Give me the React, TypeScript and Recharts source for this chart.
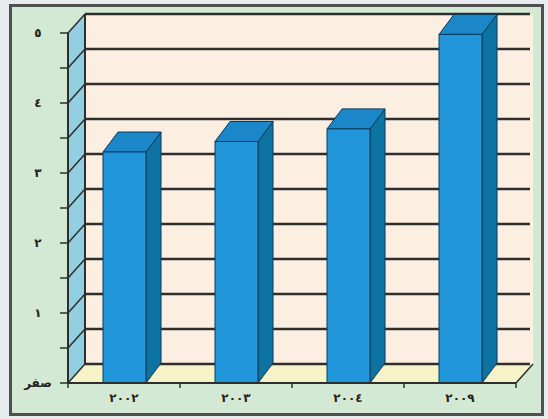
import { Bar, BarChart, ReferenceArea, XAxis, YAxis } from "recharts";

const years = ["٢٠٠٢", "٢٠٠٣", "٢٠٠٤", "٢٠٠٩"];
const values = [3.3, 3.45, 3.63, 4.98];
const yTicks = [0, 0.5, 1, 1.5, 2, 2.5, 3, 3.5, 4, 4.5, 5];
const yLabels: Record<string, string> = {
  "0": "صفر",
  "1": "١",
  "2": "٢",
  "3": "٣",
  "4": "٤",
  "5": "٥",
};

const data = years.map((year, i) => ({ year, value: values[i] }));

// depth of the fake 3d box
const WALL_DX = 17;
const WALL_DY = -19;
const BAR_DX = 15;
const BAR_DY = -20;
const INK = "#2e2e2e";

const pts = (list: number[][]) => list.map((p) => p.join(",")).join(" ");

const Walls = (props: any) => {
  const { x, y, width, height } = props;
  const b = y + height;
  return (
    <g>
      <rect x={x + WALL_DX} y={y + WALL_DY} width={width} height={height} fill="#fcefe2" />
      <polygon
        points={pts([[x, y], [x + WALL_DX, y + WALL_DY], [x + WALL_DX, b + WALL_DY], [x, b]])}
        fill="#92cfe0"
      />
      <polygon
        points={pts([[x, b], [x + WALL_DX, b + WALL_DY], [x + width + WALL_DX, b + WALL_DY], [x + width, b]])}
        fill="#f7f3c8"
      />
      <line x1={x + WALL_DX} y1={y + WALL_DY} x2={x + WALL_DX} y2={b + WALL_DY} stroke={INK} strokeWidth={2} />
      <line x1={x + width} y1={b} x2={x + width + WALL_DX} y2={b + WALL_DY} stroke={INK} strokeWidth={1.5} />
    </g>
  );
};

// a zero-height area per tick, drawn as the back-wall grid line
const GridLine = (props: any) => {
  const { x, y, width } = props;
  return (
    <g>
      <line x1={x} y1={y} x2={x + WALL_DX} y2={y + WALL_DY} stroke={INK} strokeWidth={1.5} />
      <line x1={x + WALL_DX} y1={y + WALL_DY} x2={x + width + WALL_DX - 3} y2={y + WALL_DY} stroke={INK} strokeWidth={2.5} />
    </g>
  );
};

const Bar3D = (props: any) => {
  const { x, y, width, height } = props;
  if (!height) return null;
  const r = x + width;
  const b = y + height;
  return (
    <g stroke="#0b3a58" strokeWidth={1} strokeLinejoin="round">
      <polygon points={pts([[r, y], [r + BAR_DX, y + BAR_DY], [r + BAR_DX, b + BAR_DY], [r, b]])} fill="#0d73a3" />
      <polygon points={pts([[x, y], [x + BAR_DX, y + BAR_DY], [r + BAR_DX, y + BAR_DY], [r, y]])} fill="#1b87c9" />
      <rect x={x} y={y} width={width} height={height} fill="#2196db" />
    </g>
  );
};

const YTick = (props: any) => {
  const { x, y, payload } = props;
  const label = yLabels[String(payload.value)];
  if (!label) return null;
  return (
    <text x={x - 20} y={y + 4} textAnchor="middle" fontSize={12} fontWeight="bold" fill="#222" fontFamily="DejaVu Sans">
      {label}
    </text>
  );
};

const XTick = (props: any) => {
  const { x, y, payload, index } = props;
  const half = 56;
  return (
    <g>
      {index === 0 && <line x1={x - half} y1={y - 8} x2={x - half} y2={y - 3} stroke={INK} strokeWidth={1.5} />}
      <line x1={x + half} y1={y - 8} x2={x + half} y2={y - 3} stroke={INK} strokeWidth={1.5} />
      <text x={x} y={y + 11} textAnchor="middle" fontSize={12} fontWeight="bold" fill="#222" fontFamily="DejaVu Sans">
        {payload.value}
      </text>
    </g>
  );
};

export default function App() {
  return (
    <div style={{ position: "absolute", left: 0, top: 0, width: 548, height: 419, background: "#e8ecee" }}>
      <div
        style={{
          position: "absolute",
          left: 9,
          top: 4,
          width: 529,
          height: 406,
          border: "3px solid #505050",
          background: "#d4e9d4",
        }}
      />
      <div style={{ position: "absolute", left: 0, top: 0 }}>
        <BarChart
          width={548}
          height={419}
          data={data}
          margin={{ top: 33, right: 32, bottom: 0, left: 0 }}
          barSize={43}
        >
          <ReferenceArea y1={0} y2={5} shape={<Walls />} />
          {yTicks.map((t) => (
            <ReferenceArea key={t} y1={t} y2={t} shape={<GridLine />} />
          ))}
          <XAxis
            dataKey="year"
            height={36}
            axisLine={{ stroke: INK, strokeWidth: 2 }}
            tickLine={false}
            tick={<XTick />}
            interval={0}
          />
          <YAxis
            width={68}
            domain={[0, 5]}
            ticks={yTicks}
            interval={0}
            axisLine={{ stroke: INK, strokeWidth: 2 }}
            tickLine={{ stroke: INK, strokeWidth: 1.5 }}
            tickSize={8}
            tick={<YTick />}
          />
          <Bar dataKey="value" shape={<Bar3D />} isAnimationActive={false} />
        </BarChart>
      </div>
    </div>
  );
}
